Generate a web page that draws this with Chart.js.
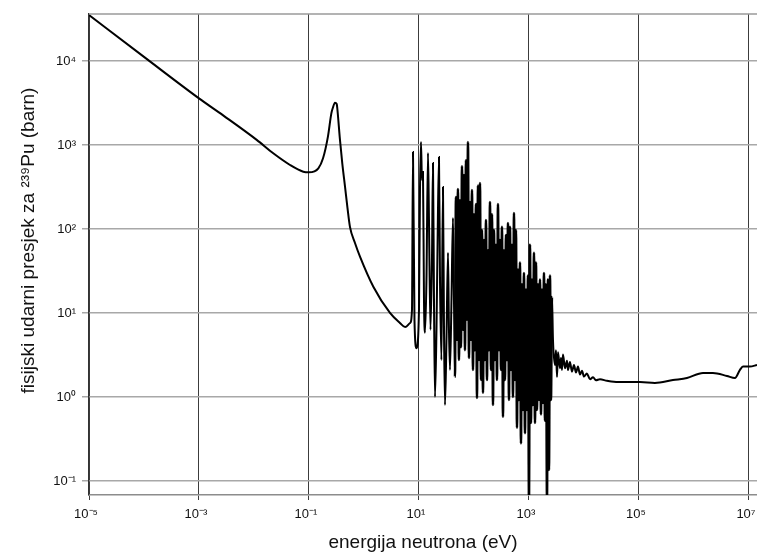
<!DOCTYPE html>
<html>
<head>
<meta charset="utf-8">
<script src="https://cdn.jsdelivr.net/npm/chart.js@4.4.1/dist/chart.umd.min.js"></script>
<style>
html, body { margin: 0; padding: 0; background: #fff; }
#wrap { width: 757px; height: 556px; }
</style>
</head>
<body>
<div id="wrap"><canvas id="puChart" width="757" height="556"></canvas></div>
<script>
'use strict';

// thermal region (1/v part and the 0.3 eV resonance), eV / barn
var thermalEnergy = [1e-5, 1e-4, 1e-3, 2.75e-3, 0.0112, 0.0224, 0.0452, 0.0788, 0.1, 0.148, 0.18, 0.221, 0.255, 0.27, 0.297, 0.319, 0.327, 0.366, 0.403, 0.452, 0.501, 0.556, 0.686, 0.846, 1.48, 2.97, 4.5, 5.6, 6.9];
var thermalSigma = [35300, 11200, 3590, 2250, 1150, 796, 578, 481, 473, 528, 695, 1260, 2380, 2740, 3190, 3080, 2740, 1150, 605, 319, 178, 106, 68, 46.8, 20.5, 10, 7.6, 6.8, 7.6];

// resolved resonances, read peak by peak
var resonanceEnergy = [
    7.46, 7.78, 8.28, 9.01, 10.0, 10.43, 10.87, 11.34, 11.82, 12.33, 12.85, 13.68, 14.58, 15.2, 16.18, 17.22, 17.97, 18.74, 19.54, 20.8,
    21.7, 23.1, 24.1, 25.6, 27.3, 28.5, 29.7, 31.6, 33.7, 35.1, 36.6, 39.0, 41.5, 43.3,
    45.1, 47.0, 49.0, 51.1, 53.3, 55.6, 58.0, 60.5, 63.1, 65.8, 68.6, 71.5, 74.6, 77.8, 81.1, 84.6, 88.2, 92.0, 95.9, 100,
    104.3, 108.7, 113.4, 118.2, 123.3, 128.6, 134.1, 139.8, 145.8, 152.0, 158.5, 165.3, 172.3, 179.7, 187.4, 195.4, 203.8, 212.5, 221.6, 231.0,
    240.9, 251.2, 261.9, 273.1, 284.8, 297.0, 309.7, 322.9, 336.7, 351.1, 366.1, 381.8, 398.1, 415.1, 432.9, 451.4, 470.7, 490.8, 511.8, 533.7,
    556.5, 580.3, 605.1, 631.0, 658.0, 686.1, 715.4, 746.0, 777.9, 811.1, 845.8, 882.0, 919.7, 959.0, 1000, 1043, 1087, 1134, 1182, 1233,
    1286, 1341, 1398, 1458, 1520, 1585, 1653, 1723, 1797, 1874, 1954, 2037, 2125, 2216, 2310, 2409, 2512, 2619
];
var resonanceSigma = [
    10.9, 826, 8.3, 3.8, 10.9, 291, 1087, 383, 477, 14.3, 5.8, 25, 804, 128, 6.3, 43, 610, 14.3, 1.0, 6.3,
    56, 720, 25, 2.75, 316, 6.3, 0.80, 4.8, 52, 6.3, 2.1, 14.3, 135, 14.3,
    1.73, 240, 4.8, 300, 2.75, 220, 3.9, 560, 6.3, 440, 3.6, 660, 8.3, 1087, 2.9, 210, 4.8, 291, 2.1, 150,
    3.6, 198, 0.97, 330, 2.75, 353, 1.59, 97, 1.12, 74, 2.75, 128, 1.59, 56, 3.6, 210, 2.1, 150, 0.80, 97,
    2.75, 65, 1.59, 198, 3.6, 74, 2.1, 106, 0.58, 56, 1.59, 85, 2.75, 118, 0.92, 106, 2.1, 65, 1.0, 155,
    1.59, 97, 0.43, 33, 0.92, 40, 0.28, 22, 0.70, 30, 0.37, 19, 0.70, 28, 0.06, 65, 0.49, 25, 0.80, 52,
    0.49, 40, 0.70, 22, 0.92, 25, 0.62, 19, 0.85, 30, 0.52, 22, 0.06, 25, 0.135, 28, 0.92, 15.5
];

// unresolved and fast region
var fastEnergy = [2730, 2970, 3100, 3230, 3370, 3660, 3820, 3980, 4150, 4520, 4910, 5120, 5560, 6050, 6580, 7160, 7780, 8460, 9200, 10000,
    11300, 12900, 14600, 16500, 19500, 26200, 41500, 104000, 195000, 415000, 746000, 1.46e6, 2.21e6, 3.98e6, 5.56e6, 6.86e6, 7.78e6, 1.04e7, 1.4e7];
var fastSigma = [4.8, 2.4, 3.6, 1.73, 3.4, 2.2, 2.9, 2.1, 3.2, 2.2, 2.7, 2.1, 2.6, 2.0, 2.4, 1.95, 2.3, 1.85, 2.05, 1.75,
    1.9, 1.62, 1.72, 1.58, 1.62, 1.56, 1.51, 1.51, 1.47, 1.59, 1.68, 1.93, 1.93, 1.78, 1.68, 2.1, 2.3, 2.3, 2.4];

var xTickValues = [1e-5, 1e-3, 1e-1, 1e1, 1e3, 1e5, 1e7];
var xTickLabels = ['10\u207B\u2075', '10\u207B\u00B3', '10\u207B\u00B9', '10\u00B9', '10\u00B3', '10\u2075', '10\u2077'];
var yTickValues = [1e-1, 1, 1e1, 1e2, 1e3, 1e4];
var yTickLabels = ['10\u207B\u00B9', '10\u2070', '10\u00B9', '10\u00B2', '10\u00B3', '10\u2074'];

var xTitle = 'energija neutrona (eV)';
var yTitle = 'fisijski udarni presjek za \u00B2\u00B3\u2079Pu (barn)';

var fontFamily = '"Liberation Sans", Arial, sans-serif';

function toPoints(xs, ys) {
    return xs.map(function (x, i) { return { x: x, y: ys[i] }; });
}

var allPoints = toPoints(thermalEnergy, thermalSigma)
    .concat(toPoints(resonanceEnergy, resonanceSigma))
    .concat(toPoints(fastEnergy, fastSigma));

var denseFrom = resonanceEnergy[34];
var denseTo = resonanceEnergy[resonanceEnergy.length - 1];

function fixedTicks(values) {
    return function (scale) {
        scale.ticks = values.map(function (v) { return { value: v }; });
    };
}

function labelFor(values, labels) {
    return function (value) {
        var i = values.indexOf(value);
        return i >= 0 ? labels[i] : '';
    };
}

// top frame line plus the rotated y title (sits a bit above the plot centre in the original)
var framePlugin = {
    id: 'frameAndTitle',
    afterDraw: function (chart) {
        var a = chart.chartArea;
        var ctx = chart.ctx;
        ctx.save();
        ctx.strokeStyle = '#9a9a9a';
        ctx.lineWidth = 1.5;
        ctx.beginPath();
        ctx.moveTo(a.left, a.top);
        ctx.lineTo(a.right, a.top);
        ctx.stroke();

        ctx.translate(29, (a.top + a.bottom) / 2 - 14);
        ctx.rotate(-Math.PI / 2);
        ctx.fillStyle = '#111';
        ctx.font = '19px ' + fontFamily;
        ctx.textAlign = 'center';
        ctx.textBaseline = 'middle';
        ctx.fillText(yTitle, 0, 0);
        ctx.restore();
    }
};

new Chart(document.getElementById('puChart'), {
    type: 'line',
    data: {
        datasets: [{
            data: allPoints,
            borderColor: '#000',
            borderWidth: 2,
            pointRadius: 0,
            cubicInterpolationMode: 'monotone',
            fill: false,
            segment: {
                // the dense resonance block reads almost solid black
                borderWidth: function (c) {
                    return (c.p0.parsed.x >= denseFrom && c.p1.parsed.x <= denseTo) ? 2.5 : undefined;
                }
            }
        }]
    },
    options: {
        responsive: false,
        animation: false,
        parsing: false,
        layout: { padding: { top: 14, right: 0, left: 0, bottom: 0 } },
        plugins: { legend: { display: false }, tooltip: { enabled: false } },
        scales: {
            x: {
                type: 'logarithmic',
                min: 1e-5,
                max: 1.4e7,
                afterBuildTicks: fixedTicks(xTickValues),
                afterFit: function (s) { s.height = 61; s.paddingRight = 0; s.paddingLeft = 0; },
                ticks: {
                    callback: labelFor(xTickValues, xTickLabels),
                    color: '#111',
                    padding: 7,
                    labelOffset: -3,
                    maxRotation: 0,
                    autoSkip: false,
                    font: { family: fontFamily, size: 13 }
                },
                grid: { color: '#3c3c3c', lineWidth: 1, tickLength: 5 },
                border: { color: '#8c8c8c', width: 1.5 },
                title: {
                    display: true,
                    text: xTitle,
                    color: '#111',
                    padding: { top: 0, bottom: 2 },
                    font: { family: fontFamily, size: 19 }
                }
            },
            y: {
                type: 'logarithmic',
                min: 0.068,
                max: 36300,
                afterBuildTicks: fixedTicks(yTickValues),
                afterFit: function (s) { s.width = 89; },
                ticks: {
                    callback: labelFor(yTickValues, yTickLabels),
                    color: '#111',
                    padding: 6,
                    autoSkip: false,
                    font: { family: fontFamily, size: 13 }
                },
                grid: { color: '#a8a8a8', lineWidth: 1.5, tickLength: 7 },
                border: { color: '#333', width: 1.2 },
                title: { display: false }
            }
        }
    },
    plugins: [framePlugin]
});
</script>
</body>
</html>
